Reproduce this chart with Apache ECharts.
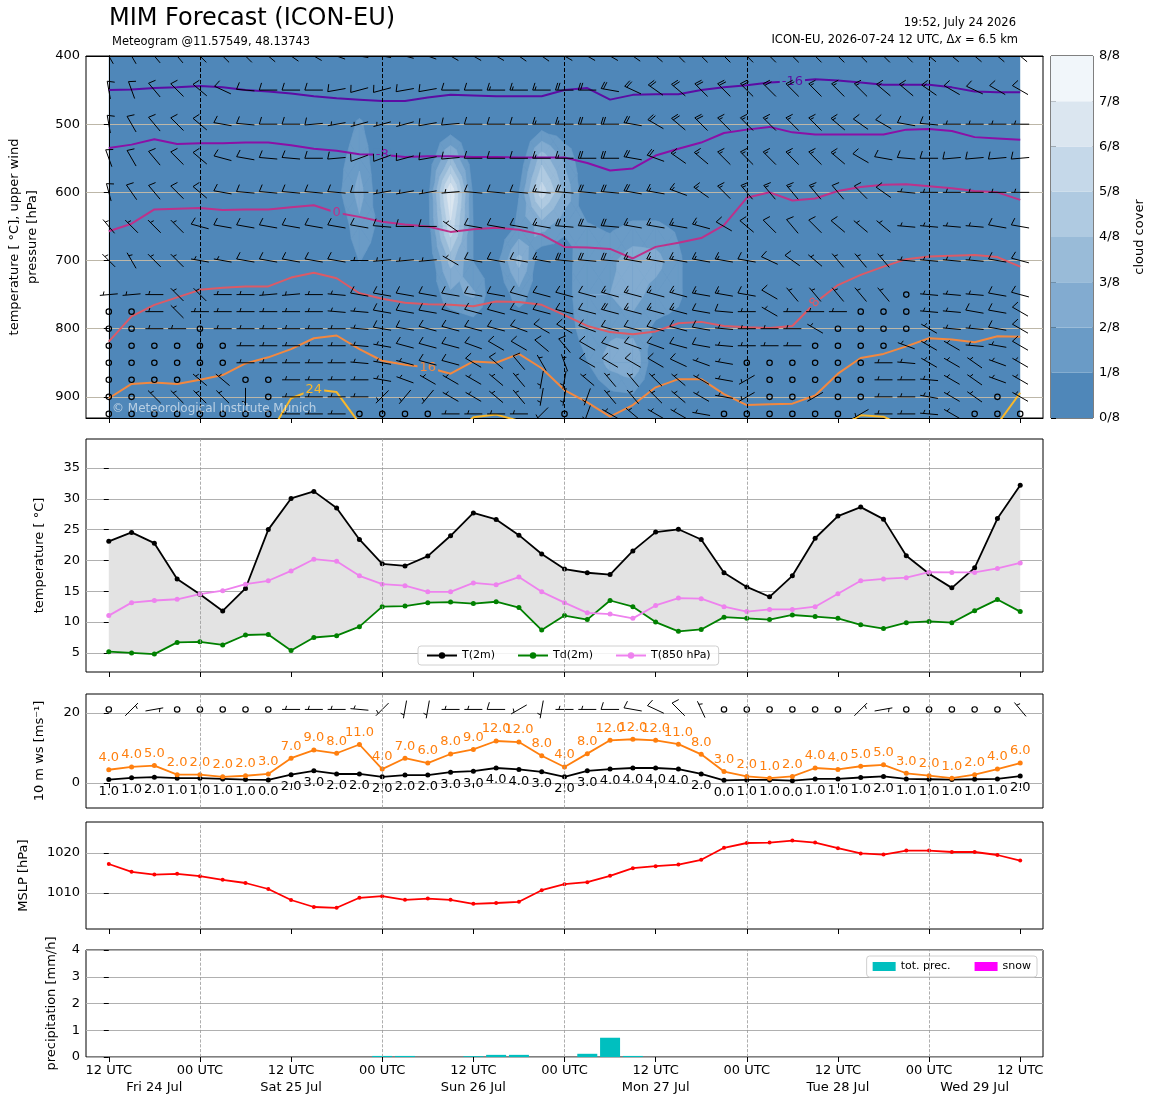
<!DOCTYPE html>
<html>
<head>
<meta charset="utf-8">
<title>MIM Forecast (ICON-EU)</title>
<script src="https://cdn.jsdelivr.net/npm/echarts@6.0.0/dist/echarts.min.js"></script>
<style>html,body{margin:0;padding:0;background:#fff}#chart{width:1155px;height:1105px}</style>
</head>
<body>
<div id="chart"></div>
<script>
// time axis: 41 steps of 3 h from 12 UTC Fri 24 Jul
var tickIdx = [0, 4, 8, 12, 16, 20, 24, 28, 32, 36, 40];
var utcLabels = ['12 UTC', '00 UTC', '12 UTC', '00 UTC', '12 UTC', '00 UTC', '12 UTC', '00 UTC', '12 UTC', '00 UTC', '12 UTC'];
var dayIdx = [2, 8, 16, 24, 32, 38];
var dayLabels = ['Fri 24 Jul', 'Sat 25 Jul', 'Sun 26 Jul', 'Mon 27 Jul', 'Tue 28 Jul', 'Wed 29 Jul'];
var midnightIdx = [4, 12, 20, 28, 36];

// 2 m temperature, dew point, 850 hPa temperature [deg C]
var t2m = [23.1,24.55,22.8,17.0,14.5, 11.8,15.45,25.0,30.05,31.2, 28.5,23.4,19.45,19.1,20.7, 24.0,27.7,26.65,24.1,21.05, 18.6,18.0,17.7,21.55,24.6, 25.05,23.4,18.0,15.7,14.1, 17.5,23.6,27.2,28.65,26.7, 20.75,17.85,15.55,18.8,26.8, 32.2];
var td2m = [5.2,5.0,4.8,6.7,6.8, 6.3,7.9,8.0,5.4,7.5, 7.8,9.25,12.5,12.6,13.15, 13.25,13.0,13.3,12.35,8.7, 11.05,10.4,13.5,12.5,10.0, 8.5,8.8,10.8,10.6,10.4, 11.15,10.9,10.6,9.55,8.95, 9.9,10.1,9.9,11.85,13.65, 11.7];
var t850 = [11.05,13.15,13.5,13.7,14.55, 15.1,16.15,16.7,18.3,20.2, 19.85,17.5,16.15,15.9,14.9, 14.9,16.35,16.05,17.3,14.9, 13.15,11.5,11.3,10.6,12.7, 13.9,13.8,12.5,11.7,12.05, 12.05,12.5,14.6,16.7,17.0, 17.2,18.1,18.05,18.05,18.7, 19.6];

// 10 m wind speed and gusts [m/s] with their printed labels
var ws10 = [1.0,1.5,1.7,1.4,1.4, 1.2,1.0,0.9,2.4,3.5, 2.6,2.6,1.8,2.3,2.3, 3.1,3.4,4.3,3.9,3.2, 1.8,3.5,4.0,4.3,4.3, 4.0,2.6,0.8,0.9,0.9, 0.7,1.2,1.2,1.6,1.9, 1.2,1.1,1.0,1.1,1.2, 2.0];
var ws10Lbl = [1,1,2,1,1, 1,1,0,2,3, 2,2,2,2,2, 3,3,4,4,3, 2,3,4,4,4, 4,2,0,1,1, 0,1,1,1,2, 1,1,1,1,1, 2];
var gust10 = [3.8,4.6,5.0,2.4,2.4, 1.8,2.1,2.6,7.1,9.4, 8.5,11.0,4.0,7.1,5.7, 8.3,9.6,12.0,11.7,7.8, 4.6,8.4,12.2,12.5,12.2, 11.1,8.2,3.3,1.9,1.4, 1.9,4.3,3.9,4.8,5.2, 2.8,2.1,1.4,2.4,4.0, 5.7];
var gust10Lbl = [4,4,5,2,2, 2,2,3,7,9, 8,11,4,7,6, 8,9,12,12,8, 4,8,12,12,12, 11,8,3,2,1, 2,4,4,5,5, 3,2,1,2,4, 6];
// 10 m barbs: direction [deg], speed [kt]
var sfcDir = [0,45,80,0,0, 0,0,0,270,270, 270,275,225,190,190, 270,270,270,240,190, 270,270,270,280,295, 315,335,0,0,0, 0,0,0,45,80, 0,0,0,0,0, 320];
var sfcKt = [0,5,5,0,0, 0,0,0,5,5, 5,5,5,5,5, 5,5,10,5,5, 5,5,10,10,10, 10,5,0,0,0, 0,0,0,5,5, 0,0,0,0,0, 5];

// mean sea level pressure [hPa]
var mslp = [1017.25,1015.3,1014.6,1014.8,1014.2, 1013.3,1012.5,1011.0,1008.25,1006.5, 1006.3,1008.8,1009.2,1008.3,1008.6, 1008.3,1007.3,1007.5,1007.8,1010.7, 1012.2,1012.7,1014.3,1016.2,1016.7, 1017.1,1018.3,1021.3,1022.5,1022.6, 1023.1,1022.6,1021.2,1019.9,1019.6, 1020.6,1020.6,1020.25,1020.25,1019.5, 1018.1];

// precipitation [mm/h]
var totPrec = [0,0,0,0,0, 0,0,0,0,0, 0,0,0.04,0.04,0, 0,0.03,0.08,0.08,0, 0,0.12,0.72,0.04,0, 0,0,0,0,0, 0,0,0,0,0, 0,0,0,0,0, 0];
var snowPrec = [0,0,0,0,0, 0,0,0,0,0, 0,0,0,0,0, 0,0,0,0,0, 0,0,0,0,0, 0,0,0,0,0, 0,0,0,0,0, 0,0,0,0,0, 0];

// isotherms: pressure [hPa] of each temperature level
var isoLevels = [-16, -8, 0, 8, 16, 24];
var isoColors = ['#5c0ca3', '#8b10a6', '#bd318a', '#dc5a66', '#f3883f', '#f9b82a'];
var isoM16 = [450,449,447,446,444, 446,450,452,455,459, 462,464,466,466,461, 457,458,459,459,459, 450,447,464,457,456, 456,450,446,443,439, 437,434,436,439,442, 442,442,446,452,453, 453];
var isoM8 = [535,530,522,529,528, 528,527,527,531,536, 539,544,545,548,547, 547,548,548,549,549, 549,557,568,565,546, 536,527,513,508,504, 512,515,515,515,515, 508,507,510,519,521, 523];
var iso0 = [657,646,625,624,623, 626,625,625,622,619, 630,636,643,647,650, 658,654,652,655,662, 680,681,683,697,680, 674,667,648,608,600, 612,609,598,592,589, 588,591,594,598,600, 611];
var iso8 = [819,782,765,754,743, 740,738,738,725,718, 726,748,756,762,764, 765,767,760,761,765, 780,796,805,808,804, 792,790,796,798,799, 796,762,736,721,709, 698,694,693,692,695, 709];
var iso16 = [902,881,879,881,875, 868,851,842,830,814, 810,830,847,853,857, 866,848,850,837,858, 890,908,929,912,886, 874,874,896,912,911, 910,898,866,843,837, 826,814,816,820,811, 812];
var iso24 = [960,960,960,960,960, 960,960,958,902,889, 893,939,960,960,960, 960,930,926,935,960, 960,960,960,960,960, 960,960,960,960,960, 960,960,945,927,929, 945,960,960,960,940, 894];
var isoLabelIdx = [[30], [12], [10], [31], [14], [9]];

// cloud cover (fraction) on a 50 hPa grid, nonzero points [time index, hPa, value]
var cloudP = [400,450,500,550,600,650,700,750,800,850,900,950];
var cloudPts = [
  [10,550,0.06],[10,600,0.08],[11,500,0.15],[11,550,0.22],[11,600,0.3],[11,650,0.22],[11,700,0.13],[12,650,0.08],[12,700,0.06],
  [14,600,0.08],[14,650,0.06],[15,550,0.4],[15,600,0.88],[15,650,0.72],[15,700,0.42],[15,750,0.22],
  [16,600,0.1],[16,650,0.12],[16,700,0.12],[16,750,0.27],[16,800,0.05],
  [17,700,0.08],[18,600,0.12],[18,650,0.15],[18,700,0.42],[18,750,0.2],
  [19,500,0.05],[19,550,0.45],[19,600,0.7],[19,650,0.3],[20,550,0.22],[20,600,0.35],[20,650,0.15],
  [20,700,0.06],[20,750,0.06],[20,800,0.05],
  [21,650,0.14],[21,700,0.24],[21,750,0.25],[21,800,0.2],[21,850,0.12],
  [22,650,0.1],[22,700,0.22],[22,750,0.25],[22,800,0.22],[22,850,0.3],[22,900,0.08],
  [23,650,0.15],[23,700,0.32],[23,750,0.3],[23,800,0.2],[23,850,0.38],[23,900,0.1],
  [24,650,0.15],[24,700,0.3],[24,750,0.2],[24,800,0.1],
  [25,650,0.1],[25,700,0.15],[25,750,0.15],[25,800,0.08]
];
var cloudColors = ['#4f87b9', '#6a9bc6', '#82abd0', '#99bbd8', '#afcae1', '#c5d8e9', '#dbe6f0', '#f1f6fa'];
var cloudTicks = [0, 1, 2, 3, 4, 5, 6, 7, 8];

// upper wind barbs: direction [deg] and speed [kt] per level
var windLevels = [400,450,500,550,600,650,700,750,775,800,825,850,875,900,925];
var upperDir = [
  [330,330,320,320,315, 315,315,310,305,300, 290,280,280,285,290, 300,300,300,305,305, 300,300,300,305,310, 315,315,315,315,315, 315,315,315,315,315, 315,310,310,310,310, 310],
  [350,340,320,315,310, 295,275,270,270,270, 260,255,255,260,260, 270,270,270,270,270, 270,270,280,295,305, 310,315,315,315,315, 315,315,315,315,310, 310,305,300,295,300, 300],
  [350,330,320,315,310, 280,275,270,270,265, 260,255,255,255,260, 265,270,270,270,270, 270,270,270,280,300, 310,315,315,315,315, 315,315,310,305,300, 280,275,270,270,270, 270],
  [340,330,320,315,310, 285,280,275,275,270, 265,250,250,255,260, 265,270,270,270,270, 270,270,270,280,290, 305,310,315,315,315, 315,315,310,300,280, 275,270,265,265,265, 265],
  [345,325,320,315,310, 280,275,275,275,275, 275,270,260,260,260, 265,275,275,275,275, 275,275,275,280,280, 290,305,315,320,320, 320,320,320,315,305, 275,270,270,270,270, 270],
  [320,315,315,315,285, 280,280,280,280,280, 280,280,275,270,270, 305,280,280,280,280, 275,275,275,280,280, 280,285,300,310,315, 320,315,310,310,310, 275,275,275,275,280, 280],
  [315,330,315,315,280, 280,280,280,280,280, 280,270,265,265,265, 300,280,280,280,280, 275,275,275,280,280, 280,280,280,280,295, 305,310,320,320,320, 275,275,275,275,280, 285],
  [265,265,270,315,315, 270,270,265,265,270, 275,280,280,280,280, 280,280,280,285,285, 285,285,285,285,285, 285,280,280,280,300, 320,320,320,320,320, 0,275,275,275,280, 285],
  [0,0,270,315,270, 270,270,270,270,270, 275,275,280,280,280, 285,285,285,285,285, 285,285,285,285,285, 285,280,275,270,300, 270,270,270,0,0, 0,275,275,280,280, 300],
  [0,0,270,270,0, 270,270,270,270,270, 270,275,280,280,285, 285,285,285,290,300, 300,290,285,285,285, 285,280,275,270,270, 270,300,0,0,0, 0,300,275,275,280, 300],
  [0,0,0,0,0, 0,270,270,270,270, 270,275,280,285,285, 285,290,300,300,310, 320,300,290,290,290, 285,280,275,270,270, 270,0,0,0,0, 290,300,300,275,280, 300],
  [0,0,0,0,0, 0,270,270,270,270, 270,275,280,285,285, 285,300,310,320,330, 340,300,300,300,300, 295,290,280,0,0, 0,0,0,0,270, 275,300,300,305,290, 300],
  [0,0,0,0,310, 310,0,0,270,270, 270,270,280,290,300, 300,300,310,320,190, 190,310,320,320,315, 310,300,280,240,0, 0,0,0,0,270, 270,275,300,305,290, 300],
  [0,0,315,315,315, 315,180,0,270,270, 270,270,225,220,220, 300,300,310,320,190, 190,200,320,320,315, 310,300,280,240,0, 0,240,0,0,270, 270,280,300,305,0, 300],
  [0,0,0,0,0, 0,0,0,270,270, 270,0,0,0,0, 270,270,270,270,225, 0,200,300,310,300, 300,280,0,0,0, 0,0,0,240,270, 270,275,300,0,0, 0]
];
var upperSpd = [
  [10,10,10,10,10, 10,10,10,10,10, 10,10,10,10,10, 10,10,10,10,10, 20,20,20,20,20, 20,20,20,20,20, 20,20,20,20,20, 20,15,15,15,15, 15],
  [10,10,10,10,10, 10,10,10,10,10, 10,10,10,10,10, 10,10,15,15,15, 20,20,20,20,20, 20,20,20,20,20, 20,15,15,15,15, 15,15,10,10,10, 10],
  [10,10,10,10,10, 10,10,10,10,10, 5,5,5,5,10, 10,10,10,10,15, 15,20,20,20,20, 20,20,15,15,15, 15,15,15,10,10, 10,10,5,5,5, 5],
  [10,10,10,10,10, 10,10,10,10,10, 10,10,10,10,10, 10,10,10,10,15, 15,20,20,20,20, 15,15,15,15,15, 15,15,15,10,10, 10,10,10,10,10, 10],
  [10,10,10,10,10, 10,10,10,10,10, 10,10,5,5,5, 5,10,10,10,15, 20,20,20,20,15, 15,15,15,15,15, 15,15,10,10,10, 5,5,5,5,5, 5],
  [5,5,5,5,10, 10,10,10,10,10, 10,10,10,10,10, 5,10,10,10,15, 20,20,20,15,15, 15,15,10,10,10, 10,10,10,5,5, 5,5,5,5,10, 10],
  [5,5,5,5,5, 5,10,10,10,10, 10,5,5,5,5, 5,10,10,10,15, 20,20,20,15,15, 15,15,15,10,10, 10,5,5,5,5, 5,5,5,5,10, 10],
  [5,5,5,5,5, 5,5,5,5,5, 5,10,10,10,10, 10,10,10,10,10, 10,10,15,15,15, 15,15,15,10,10, 5,5,5,5,5, 0,5,5,5,10, 10],
  [0,0,5,5,5, 5,5,5,5,5, 5,5,10,10,10, 10,10,10,10,10, 10,10,20,15,15, 15,10,10,5,5, 5,5,5,0,0, 0,5,5,10,10, 10],
  [0,0,5,5,0, 5,5,5,5,5, 5,5,10,10,10, 10,10,10,10,10, 10,10,10,10,10, 10,10,5,5,5, 5,5,0,0,0, 0,5,5,5,10, 10],
  [0,0,0,0,0, 0,5,5,5,5, 5,5,5,10,10, 10,10,10,10,10, 10,10,10,10,10, 10,10,5,5,5, 5,0,0,0,0, 5,5,5,5,5, 10],
  [0,0,0,0,0, 0,5,5,5,5, 5,5,5,5,10, 10,10,10,10,5, 5,10,10,10,10, 10,5,5,0,0, 0,0,0,0,5, 5,5,5,5,5, 5],
  [0,0,0,0,5, 5,0,0,5,5, 5,5,5,5,5, 5,5,5,5,5, 5,5,5,5,5, 5,5,5,5,0, 0,0,0,0,5, 5,5,5,5,5, 5],
  [0,0,5,5,5, 5,5,0,5,5, 5,5,5,5,5, 5,5,5,5,5, 5,5,5,5,5, 5,5,5,5,0, 0,5,0,0,5, 5,5,5,5,0, 5],
  [0,0,0,0,0, 0,0,0,5,5, 5,0,0,0,0, 5,5,5,5,5, 0,5,5,5,5, 5,5,0,0,0, 0,0,0,5,5, 5,5,5,0,0, 0]
];

var FONT = 'DejaVu Sans';
var N = t2m.length;
var chart = echarts.init(document.getElementById('chart'));

function pairs(arr) { return arr.map(function (v, i) { return [i, v]; }); }

// cloud grid from the sparse points
var cloudGrid = [];
for (var i = 0; i < N; i++) { cloudGrid.push(cloudP.map(function () { return 0; })); }
cloudPts.forEach(function (c) { cloudGrid[c[0]][cloudP.indexOf(c[1])] = c[2]; });
var cloudCells = [];
for (var ci = 0; ci < N - 1; ci++) {
  for (var cj = 0; cj < cloudP.length - 1; cj++) {
    var m = Math.max(cloudGrid[ci][cj], cloudGrid[ci + 1][cj], cloudGrid[ci][cj + 1], cloudGrid[ci + 1][cj + 1]);
    if (m >= 0.125) cloudCells.push([ci, cloudP[cj], cj]);
  }
}

// part of a triangle where the field is >= t
function clipAbove(pts, t) {
  var out = [];
  for (var k = 0; k < pts.length; k++) {
    var a = pts[k], b = pts[(k + 1) % pts.length];
    var ina = a.v >= t, inb = b.v >= t;
    if (ina) out.push(a);
    if (ina !== inb) {
      var f = (t - a.v) / (b.v - a.v);
      out.push({x: a.x + f * (b.x - a.x), y: a.y + f * (b.y - a.y), v: t});
    }
  }
  return out;
}

function renderCloud(params, api) {
  var ci = api.value(0), cj = api.value(2);
  var q = [
    {x: ci, y: cloudP[cj], v: cloudGrid[ci][cj]},
    {x: ci + 1, y: cloudP[cj], v: cloudGrid[ci + 1][cj]},
    {x: ci + 1, y: cloudP[cj + 1], v: cloudGrid[ci + 1][cj + 1]},
    {x: ci, y: cloudP[cj + 1], v: cloudGrid[ci][cj + 1]}
  ];
  var mid = {x: ci + 0.5, y: (cloudP[cj] + cloudP[cj + 1]) / 2, v: (q[0].v + q[1].v + q[2].v + q[3].v) / 4};
  var tris = [[q[0], q[1], mid], [q[1], q[2], mid], [q[2], q[3], mid], [q[3], q[0], mid]];
  var children = [];
  for (var k = 1; k < 8; k++) {
    tris.forEach(function (tri) {
      var poly = clipAbove(tri, k / 8);
      if (poly.length >= 3) {
        children.push({
          type: 'polygon',
          shape: {points: poly.map(function (p) { return api.coord([p.x, p.y]); })},
          style: {fill: cloudColors[k], stroke: cloudColors[k], lineWidth: 0.6}
        });
      }
    });
  }
  return {type: 'group', children: children};
}

function renderCloudBg(params, api) {
  var p0 = api.coord([0, 400]), p1 = api.coord([N - 1, 960]);
  return {type: 'rect', shape: {x: p0[0], y: p0[1], width: p1[0] - p0[0], height: p1[1] - p0[1]}, style: {fill: cloudColors[0]}};
}

// grey band between 2 m temperature and dew point
function renderTempFill(params, api) {
  var pts = t2m.map(function (v, i) { return api.coord([i, v]); });
  for (var i = td2m.length - 1; i >= 0; i--) pts.push(api.coord([i, td2m[i]]));
  return {type: 'polygon', shape: {points: pts}, style: {fill: '#e3e3e3'}};
}

// wind barb, pivot in the middle, barbs on the upwind end
function renderBarb(params, api) {
  var c = api.coord([api.value(0), api.value(1)]);
  var dir = api.value(2), kt = api.value(3);
  var L = 18;
  var st = {stroke: '#000', lineWidth: 1, fill: null};
  var n = Math.round(kt / 5);
  if (n === 0) {
    return {type: 'circle', shape: {cx: c[0], cy: c[1], r: 0.15 * L}, style: {stroke: '#000', lineWidth: 1.2, fill: null}};
  }
  var rad = dir * Math.PI / 180;
  var dx = Math.sin(rad), dy = -Math.cos(rad);
  var px = -dy, py = dx;
  var bx = c[0] - dx * L / 2, by = c[1] - dy * L / 2;
  var children = [{type: 'line', shape: {x1: bx, y1: by, x2: bx + dx * L, y2: by + dy * L}, style: st}];
  var sp = 0.125 * L, h = 0.4 * L, w = 0.25 * L;
  var off = L;
  var full = Math.floor(n / 2), half = n % 2;
  for (var k = 0; k < full; k++) {
    var sx = bx + dx * off, sy = by + dy * off;
    children.push({type: 'line', shape: {x1: sx, y1: sy, x2: sx + px * h - dx * w / 2, y2: sy + py * h - dy * w / 2}, style: st});
    off -= sp;
  }
  if (half) {
    if (full === 0) off -= 1.5 * sp;
    var hx = bx + dx * off, hy = by + dy * off;
    children.push({type: 'line', shape: {x1: hx, y1: hy, x2: hx + px * h / 2 - dx * w / 4, y2: hy + py * h / 2 - dy * w / 4}, style: st});
  }
  return {type: 'group', children: children};
}

function renderColorbar(params, api) {
  var k = api.value(1);
  var p0 = api.coord([0, k + 1]), p1 = api.coord([1, k]);
  return {type: 'rect', shape: {x: p0[0], y: p0[1], width: p1[0] - p0[0], height: p1[1] - p0[1]}, style: {fill: cloudColors[k]}};
}

var barbData = [];
windLevels.forEach(function (p, j) {
  for (var i = 0; i < N; i++) barbData.push([i, p, upperDir[j][i], upperSpd[j][i]]);
});
var sfcBarbData = sfcDir.map(function (d, i) { return [i, 21, d, sfcKt[i]]; });

var nameText = {color: '#000', fontSize: 13, fontFamily: FONT, lineHeight: 18};
function plainLabel(v) { return String(v); }

function gridBox(top, height) {
  return {left: 86, top: top, width: 957, height: height, show: true, borderColor: '#000', borderWidth: 1, backgroundColor: 'transparent', containLabel: false, outerBoundsMode: 'none'};
}
function xAx(gi, extra) {
  var o = {
    type: 'value', gridIndex: gi, position: 'bottom', min: -1, max: 41,
    axisLine: {show: false}, splitLine: {show: false},
    axisTick: {show: true, customValues: tickIdx, length: 5, lineStyle: {color: '#000'}},
    axisLabel: {show: false}
  };
  for (var k in extra) o[k] = extra[k];
  return o;
}
function yLabel(extra) {
  var o = {color: '#000', fontSize: 13, fontFamily: FONT, margin: 6, hideOverlap: false, formatter: plainLabel};
  for (var k in extra) o[k] = extra[k];
  return o;
}
function yAx(gi, extra) {
  var o = {
    type: 'value', gridIndex: gi,
    axisLine: {show: false},
    axisTick: {show: true, length: 5, lineStyle: {color: '#000'}},
    axisLabel: yLabel({}),
    splitLine: {show: true, lineStyle: {color: '#b0b0b0', width: 1}},
    nameLocation: 'middle', nameRotate: 90, nameTextStyle: nameText, nameMoveOverlap: false
  };
  for (var k in extra) o[k] = extra[k];
  return o;
}
function midnightLines(color, width) {
  return {
    silent: true, symbol: 'none', label: {show: false},
    lineStyle: {color: color, type: 'dashed', width: width},
    data: midnightIdx.map(function (v) { return {xAxis: v}; })
  };
}

var isoArrays = [isoM16, isoM8, iso0, iso8, iso16, iso24];
var isoSeries = isoArrays.map(function (arr, k) {
  var data = arr.map(function (p, i) {
    if (isoLabelIdx[k].indexOf(i) >= 0) {
      return {
        value: [i, p],
        label: {
          show: true, position: 'inside', formatter: String(isoLevels[k]),
          color: isoColors[k], fontSize: 13, fontFamily: FONT,
          backgroundColor: cloudColors[0], padding: [0, 2],
          rotate: isoLevels[k] === 8 ? 55 : 0
        }
      };
    }
    return [i, p];
  });
  var s = {
    type: 'line', name: 'iso' + isoLevels[k], xAxisIndex: 0, yAxisIndex: 0, z: 3,
    data: data, symbol: 'circle', symbolSize: 0, showSymbol: true, silent: true,
    lineStyle: {color: isoColors[k], width: 2}, itemStyle: {color: isoColors[k]},
    label: {show: false}
  };
  if (k === 0) s.markLine = midnightLines('#000', 1);
  return s;
});

var option = {
  animation: false,
  backgroundColor: '#fff',
  textStyle: {fontFamily: FONT},
  title: [
    {text: 'MIM Forecast (ICON-EU)', left: 109, top: 7, padding: 0, textStyle: {fontSize: 24, fontWeight: 'normal', color: '#000', fontFamily: FONT}},
    {text: 'Meteogram @11.57549, 48.13743', left: 112, top: 36, padding: 0, textStyle: {fontSize: 11.5, fontWeight: 'normal', color: '#000', fontFamily: FONT}},
    {text: '19:52, July 24 2026', right: 139, top: 17, padding: 0, textStyle: {fontSize: 11.5, fontWeight: 'normal', color: '#000', fontFamily: FONT}},
    {text: 'ICON-EU, 2026-07-24 12 UTC, Δ{i|x} = 6.5 km', right: 137, top: 34, padding: 0,
      textStyle: {fontSize: 11.5, fontWeight: 'normal', color: '#000', fontFamily: FONT,
        rich: {i: {fontSize: 11.5, fontStyle: 'italic', color: '#000', fontFamily: FONT}}}}
  ],
  graphic: [
    {type: 'text', left: 112, top: 403, z: 100, silent: true,
      style: {text: '© Meteorological Institute Munich', fill: 'rgba(255,255,255,0.6)', font: '12px "DejaVu Sans"'}}
  ],
  legend: [
    {
      data: ['T(2m)', 'Td(2m)', 'T(850 hPa)'], left: 418, top: 646, orient: 'horizontal',
      itemWidth: 30, itemHeight: 8, itemGap: 22, padding: [4, 8],
      borderColor: '#d0d0d0', borderWidth: 1, borderRadius: 3, backgroundColor: 'rgba(255,255,255,0.85)',
      textStyle: {fontSize: 11, color: '#000', fontFamily: FONT}, selectedMode: false
    },
    {
      data: ['tot. prec.', 'snow'], right: 118, top: 956, orient: 'horizontal', icon: 'rect',
      itemWidth: 23, itemHeight: 9, itemGap: 24, padding: [5, 6],
      borderColor: '#d0d0d0', borderWidth: 1, borderRadius: 3, backgroundColor: 'rgba(255,255,255,0.85)',
      textStyle: {fontSize: 11, color: '#000', fontFamily: FONT}, selectedMode: false
    }
  ],
  grid: [
    gridBox(56, 362),
    gridBox(439, 233),
    gridBox(694, 114),
    gridBox(822, 107),
    gridBox(950, 107),
    {left: 1051, top: 56, width: 42, height: 362, show: true, borderColor: '#000', borderWidth: 1, containLabel: false, outerBoundsMode: 'none'}
  ],
  xAxis: [
    xAx(0, {axisLine: {show: true, lineStyle: {color: '#000'}}, z: 2}),
    xAx(0, {position: 'top', axisTick: {show: false}, axisLine: {show: true, lineStyle: {color: '#000'}}, z: 2}),
    xAx(1, {}),
    xAx(2, {}),
    xAx(3, {}),
    xAx(4, {
      axisLabel: {
        show: true, customValues: tickIdx, hideOverlap: false, showMinLabel: true, showMaxLabel: true,
        color: '#000', fontSize: 13, fontFamily: FONT, margin: 7,
        formatter: function (v) { return utcLabels[tickIdx.indexOf(v)]; }
      }
    }),
    {type: 'value', gridIndex: 5, min: 0, max: 1, show: false},
    xAx(4, {
      position: 'bottom',
      axisTick: {show: false},
      axisLabel: {
        show: true, customValues: dayIdx, hideOverlap: false, showMinLabel: true, showMaxLabel: true,
        color: '#000', fontSize: 13, fontFamily: FONT, margin: 24,
        formatter: function (v) { return dayLabels[dayIdx.indexOf(v)]; }
      }
    })
  ],
  yAxis: [
    yAx(0, {
      inverse: true, min: 400, max: 931, interval: 100, z: 2,
      axisLabel: yLabel({showMaxLabel: false}),
      axisLine: {show: true, lineStyle: {color: '#000'}},
      splitLine: {show: true, lineStyle: {color: '#bdb7a8', width: 1}},
      name: 'temperature [ °C], upper wind\npressure [hPa]', nameGap: 44
    }),
    yAx(0, {position: 'right', inverse: true, min: 400, max: 931, z: 2, axisTick: {show: false}, axisLabel: {show: false}, splitLine: {show: false}, axisLine: {show: true, lineStyle: {color: '#000'}}}),
    yAx(1, {min: 1.9, max: 39.7, axisTick: {show: true, length: 5, customValues: [5, 10, 15, 20, 25, 30, 35], lineStyle: {color: '#000'}},
      axisLabel: yLabel({customValues: [5, 10, 15, 20, 25, 30, 35]}),
      name: 'temperature [ °C]', nameGap: 37}),
    yAx(2, {min: -7.1, max: 25.4, axisTick: {show: true, length: 5, customValues: [0, 20], lineStyle: {color: '#000'}},
      axisLabel: yLabel({customValues: [0, 20]}),
      name: '10 m ws [ms⁻¹]', nameGap: 37}),
    yAx(3, {min: 1001, max: 1027.75, axisTick: {show: true, length: 5, customValues: [1010, 1020], lineStyle: {color: '#000'}},
      axisLabel: yLabel({customValues: [1010, 1020]}),
      name: 'MSLP [hPa]', nameGap: 53}),
    yAx(4, {min: 0, max: 4, interval: 1, name: 'precipitation [mm/h]', nameGap: 25}),
    {
      type: 'value', gridIndex: 5, position: 'right', min: 0, max: 8, interval: 1,
      axisLine: {show: false}, splitLine: {show: false},
      axisTick: {show: true, length: 5, lineStyle: {color: '#000'}},
      axisLabel: yLabel({formatter: function (v) { return v + '/8'; }}),
      name: 'cloud cover', nameLocation: 'middle', nameRotate: 90, nameGap: 38, nameTextStyle: nameText, nameMoveOverlap: false
    }
  ],
  series: [
    {type: 'custom', name: 'cloudBg', xAxisIndex: 0, yAxisIndex: 0, z: 1, clip: true, silent: true, renderItem: renderCloudBg, data: [[0, 400]]},
    {type: 'custom', name: 'cloud', xAxisIndex: 0, yAxisIndex: 0, z: 1, clip: true, silent: true, renderItem: renderCloud, data: cloudCells}
  ].concat(isoSeries).concat([
    {type: 'custom', name: 'barbs', xAxisIndex: 0, yAxisIndex: 0, z: 4, clip: true, silent: true, renderItem: renderBarb, data: barbData},

    // temperature panel
    {type: 'custom', name: 'tempFill', xAxisIndex: 2, yAxisIndex: 2, z: 1, clip: true, silent: true, renderItem: renderTempFill, data: [[0, t2m[0]]]},
    {type: 'line', name: 'T(2m)', xAxisIndex: 2, yAxisIndex: 2, data: pairs(t2m), symbol: 'circle', symbolSize: 5,
      lineStyle: {color: '#000', width: 1.8}, itemStyle: {color: '#000'}, markLine: midnightLines('#999', 0.8)},
    {type: 'line', name: 'Td(2m)', xAxisIndex: 2, yAxisIndex: 2, data: pairs(td2m), symbol: 'circle', symbolSize: 5,
      lineStyle: {color: '#008000', width: 1.8}, itemStyle: {color: '#008000'}},
    {type: 'line', name: 'T(850 hPa)', xAxisIndex: 2, yAxisIndex: 2, data: pairs(t850), symbol: 'circle', symbolSize: 5,
      lineStyle: {color: '#ee82ee', width: 1.8}, itemStyle: {color: '#ee82ee'}},

    // 10 m wind panel
    {type: 'line', name: 'ws10', xAxisIndex: 3, yAxisIndex: 3, data: pairs(ws10), symbol: 'circle', symbolSize: 5,
      lineStyle: {color: '#000', width: 1.8}, itemStyle: {color: '#000'}, markLine: midnightLines('#999', 0.8),
      label: {show: true, position: 'bottom', distance: 3, color: '#000', fontSize: 13, fontFamily: FONT,
        formatter: function (p) { return ws10Lbl[p.dataIndex].toFixed(1); }}},
    {type: 'line', name: 'gust10', xAxisIndex: 3, yAxisIndex: 3, data: pairs(gust10), symbol: 'circle', symbolSize: 5,
      lineStyle: {color: '#ff7f0e', width: 1.8}, itemStyle: {color: '#ff7f0e'},
      label: {show: true, position: 'top', distance: 3, color: '#ff7f0e', fontSize: 13, fontFamily: FONT,
        formatter: function (p) { return gust10Lbl[p.dataIndex].toFixed(1); }}},
    {type: 'custom', name: 'sfcBarbs', xAxisIndex: 3, yAxisIndex: 3, z: 4, clip: true, silent: true, renderItem: renderBarb, data: sfcBarbData},

    // MSLP panel
    {type: 'line', name: 'MSLP', xAxisIndex: 4, yAxisIndex: 4, data: pairs(mslp), symbol: 'circle', symbolSize: 4,
      lineStyle: {color: '#ff0000', width: 1.8}, itemStyle: {color: '#ff0000'}, markLine: midnightLines('#999', 0.8)},

    // precipitation panel
    {type: 'bar', name: 'tot. prec.', xAxisIndex: 5, yAxisIndex: 5, data: pairs(totPrec), barWidth: 20, barGap: '-100%',
      itemStyle: {color: '#00bfbf'}, markLine: midnightLines('#999', 0.8)},
    {type: 'bar', name: 'snow', xAxisIndex: 5, yAxisIndex: 5, data: pairs(snowPrec), barWidth: 20, barGap: '-100%',
      itemStyle: {color: '#ff00ff'}},

    // colour bar
    {type: 'custom', name: 'cbar', xAxisIndex: 6, yAxisIndex: 6, silent: true, renderItem: renderColorbar,
      data: cloudTicks.slice(0, 8).map(function (k) { return [0, k]; })}
  ])
};
chart.setOption(option);
</script>
</body>
</html>
